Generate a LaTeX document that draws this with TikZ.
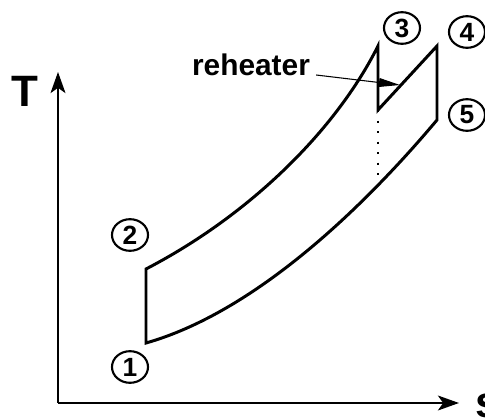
\documentclass[tikz,border=0pt]{standalone}
\usepackage{fontspec}
\setmainfont{Liberation Sans}
\usetikzlibrary{arrows.meta,shapes.geometric}

\tikzset{
  state/.style={draw, ellipse, line width=1.2pt, minimum width=20.5pt, minimum height=18pt,
    inner sep=0pt, font=\fontsize{15}{17}\selectfont\bfseries},
  cycleline/.style={line width=1.7pt, line join=miter},
  axis/.style={line width=1.1pt, -{Stealth[length=12pt,width=8.5pt,inset=3pt]}},
  axislabel/.style={font=\fontsize{25}{30}\selectfont\bfseries},
}

\begin{document}
\begin{tikzpicture}[x=0.02cm, y=-0.02cm]
\useasboundingbox (0,0) rectangle (485,419);

% ----------------------------------------------------
% Axes
% ----------------------------------------------------
\coordinate (O) at (58,403);
\coordinate (Ttip) at (58,72);
\coordinate (Stip) at (459,403);
\draw[axis] (O) -- (Ttip);
\draw[axis] (O) -- (Stip);
\node[axislabel] (T) at (25,91) {T};
\node[axislabel, anchor=base west] (S) at (469,418) {s};

% ----------------------------------------------------
% Cycle with reheat
% ----------------------------------------------------
\coordinate (p1) at (146,343);
\coordinate (p2) at (146,269);
\coordinate (p3) at (378,46);
\coordinate (p3b) at (378,110);
\coordinate (p4) at (437,46);
\coordinate (p5) at (437,120);
\coordinate (pd) at (378,184);

\draw[cycleline] (p1) -- (p2) .. controls (250,215) and (336,130) .. (p3)
  -- (p3b) -- (p4) -- (p5) .. controls (363,208) and (255,312) .. cycle;

% dotted drop below the reheater
\draw[line width=1.2pt, dash pattern=on 1.2pt off 4.8pt] (p3b) -- (pd);

% reheater label
\node[font=\fontsize{17}{20}\selectfont\bfseries, anchor=base] (reh) at (251,75) {reheater};
\coordinate (rh) at (400,85);
\draw[line width=0.6pt, -{Triangle[length=12pt,width=5pt]}] (reh.base east) -- (rh);

% state points
\node[state] (n1) at (130,367) {1};
\node[state] (n2) at (130,235) {2};
\node[state] (n3) at (402,28) {3};
\node[state] (n4) at (467,32) {4};
\node[state] (n5) at (467,115) {5};

\end{tikzpicture}
\end{document}
